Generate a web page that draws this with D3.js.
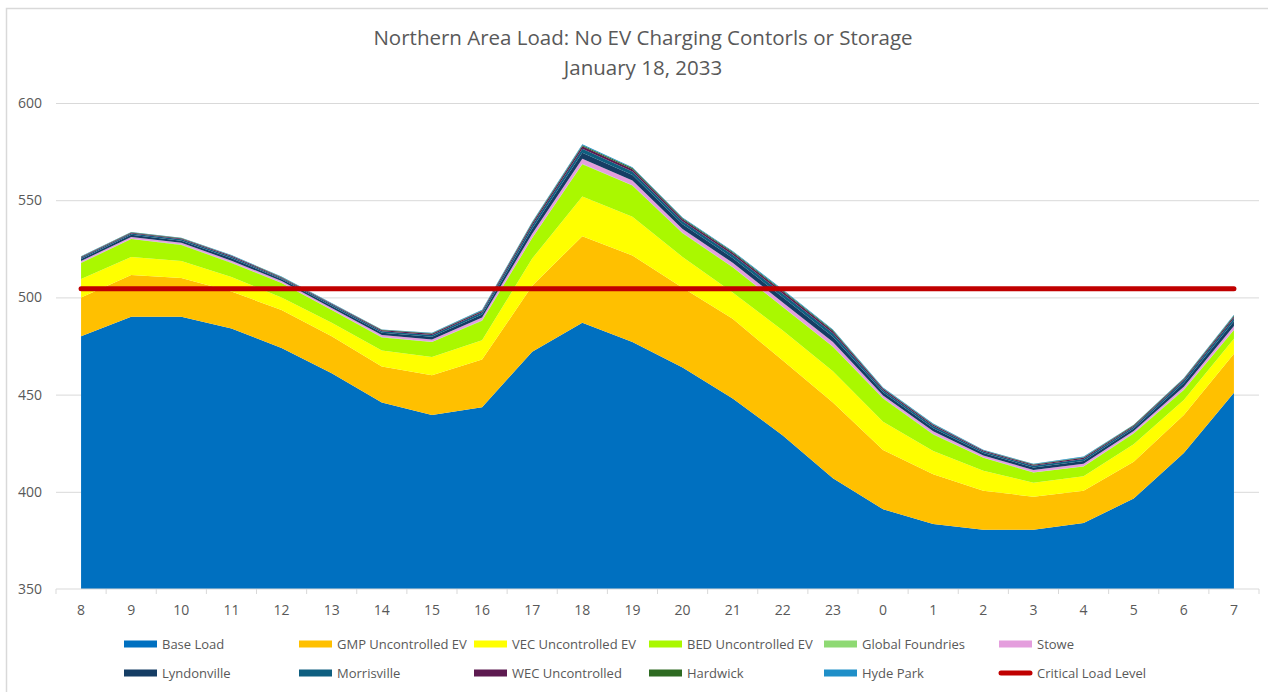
<!DOCTYPE html>
<html>
<head>
<meta charset="utf-8">
<script src="https://cdn.jsdelivr.net/npm/d3@7"></script>
<style>
	body { margin: 0; background: #fff; }
	text { font-family: "Open Sans", "Liberation Sans", sans-serif; fill: #595959; }
</style>
</head>
<body>
<div id="chart"></div>
<script>
// Hours of the day (x axis categories)
const hours = ["8", "9", "10", "11", "12", "13", "14", "15", "16", "17", "18", "19", "20", "21", "22", "23", "0", "1", "2", "3", "4", "5", "6", "7"];

// Stacked series (MW)
const baseLoad = [480, 490, 490, 484, 474, 461, 446, 439.5, 443.5, 472, 487, 477, 464, 448, 429, 407, 391, 383.5, 380.5, 380.5, 384, 396.5, 420, 451];
const gmpEV = [20, 21.5, 20, 19, 19.5, 19, 18.5, 20.5, 24.5, 34, 44.5, 44.5, 41, 41, 38.5, 39, 30.5, 25.5, 20, 17, 16.5, 19, 19.5, 20];
const vecEV = [9.5, 9.3, 8.7, 7.5, 6.5, 7, 8.2, 9.4, 10, 14, 20.4, 20, 15.8, 13.5, 15.5, 16, 14.5, 12, 10.3, 7.2, 7.5, 9, 7.7, 7.7];
const bedEV = [8.2, 9.2, 8.3, 7.2, 7.4, 6.5, 6.7, 7.6, 10, 10.5, 16.6, 16, 12.2, 13, 12, 12.6, 12, 8.5, 6.7, 5.2, 5, 5.5, 5.2, 4.5];
const globalFoundries = [0.2, 0.2, 0.2, 0.2, 0.2, 0.2, 0.2, 0.2, 0.2, 0.2, 0.2, 0.2, 0.2, 0.2, 0.2, 0.2, 0.2, 0.2, 0.2, 0.2, 0.2, 0.2, 0.2, 0.2];
const stowe = [0.8, 0.9, 0.9, 1.0, 0.8, 0.9, 1.0, 1.2, 1.4, 2.1, 2.6, 2.4, 2.0, 2.1, 2.2, 2.2, 1.4, 1.4, 1.0, 1.1, 1.2, 1.1, 1.5, 1.9];
const lyndonville = [1.0, 1.1, 1.1, 1.2, 0.9, 1.0, 1.2, 1.4, 1.6, 2.5, 3.1, 2.8, 2.4, 2.5, 2.7, 2.7, 1.6, 1.6, 1.2, 1.3, 1.5, 1.3, 1.9, 2.4];
const morrisville = [0.7, 0.7, 0.7, 0.8, 0.6, 0.7, 0.8, 0.9, 1.1, 1.7, 2.1, 1.9, 1.6, 1.7, 1.8, 1.8, 1.1, 1.1, 0.8, 0.9, 1.0, 0.9, 1.2, 1.6];
const wecUncontrolled = [0.4, 0.4, 0.4, 0.5, 0.4, 0.4, 0.5, 0.6, 0.7, 1.0, 1.2, 1.1, 1.0, 1.0, 1.1, 1.1, 0.7, 0.7, 0.5, 0.5, 0.6, 0.5, 0.7, 0.9];
const hardwick = [0.2, 0.2, 0.2, 0.2, 0.2, 0.2, 0.2, 0.3, 0.3, 0.5, 0.6, 0.6, 0.5, 0.5, 0.5, 0.5, 0.3, 0.3, 0.2, 0.3, 0.3, 0.3, 0.4, 0.5];
const hydePark = [0.2, 0.2, 0.2, 0.2, 0.2, 0.2, 0.2, 0.2, 0.3, 0.4, 0.5, 0.5, 0.4, 0.4, 0.5, 0.4, 0.3, 0.3, 0.2, 0.2, 0.3, 0.2, 0.3, 0.4];

// Critical load level (flat line)
const criticalLoad = [504.5, 504.5, 504.5, 504.5, 504.5, 504.5, 504.5, 504.5, 504.5, 504.5, 504.5, 504.5, 504.5, 504.5, 504.5, 504.5, 504.5, 504.5, 504.5, 504.5, 504.5, 504.5, 504.5, 504.5];

const yTicks = [350, 400, 450, 500, 550, 600];

const seriesNames = ["Base Load", "GMP Uncontrolled EV", "VEC Uncontrolled EV", "BED Uncontrolled EV", "Global Foundries", "Stowe",
	"Lyndonville", "Morrisville", "WEC Uncontrolled", "Hardwick", "Hyde Park"];
const seriesValues = [baseLoad, gmpEV, vecEV, bedEV, globalFoundries, stowe, lyndonville, morrisville, wecUncontrolled, hardwick, hydePark];
const seriesColors = ["#0070C0", "#FFC000", "#FFFF00", "#AAF800", "#8ED973", "#E49EDD",
	"#153D64", "#0F5F80", "#5D1A50", "#2E6B22", "#1F8FC8"];

const width = 1268, height = 692;
const plot = {left: 56, right: 1259, top: 103, bottom: 589};

let svg = d3.select("#chart")
	.append("svg")
	.attr("width", width)
	.attr("height", height);

// chart border
svg.append("rect")
	.attr("x", 6.5).attr("y", 8.5)
	.attr("width", width).attr("height", height)
	.attr("fill", "none")
	.attr("stroke", "#d9d9d9")
	.attr("stroke-width", 1.5);

let x = d3.scaleBand().domain(hours).range([plot.left, plot.right]);
let y = d3.scaleLinear().domain([350, 600]).range([plot.bottom, plot.top]);
let cx = function(h) {return x(h) + x.bandwidth() / 2};

// Gridlines
svg.append("g")
	.attr("transform", "translate(" + plot.left + ",0)")
	.call(d3.axisLeft(y).tickValues(yTicks.slice(1)).tickSize(-(plot.right - plot.left)).tickFormat(""))
	.call(g => g.select(".domain").remove())
	.selectAll("line").attr("stroke", "#d9d9d9");

// Stacked areas
let table = hours.map(function(h, i) {
	let row = {hour: h};
	seriesNames.forEach(function(n, j) {row[n] = seriesValues[j][i]});
	return row;
});
let stacked = d3.stack().keys(seriesNames)(table);

let area = d3.area()
	.x(function(d) {return cx(d.data.hour)})
	.y0(function(d) {return y(Math.max(350, d[0]))})
	.y1(function(d) {return y(d[1])});

svg.append("g").selectAll("path")
	.data(stacked)
	.enter()
	.append("path")
	.attr("d", area)
	.attr("fill", function(d, i) {return seriesColors[i]});

// X axis line + tick marks between categories
svg.append("line")
	.attr("x1", plot.left).attr("x2", plot.right)
	.attr("y1", y(350)).attr("y2", y(350))
	.attr("stroke", "#d9d9d9");

svg.append("g").selectAll("line")
	.data(hours.concat(["end"]))
	.enter()
	.append("line")
	.attr("x1", function(d, i) {return plot.left + i * x.bandwidth()})
	.attr("x2", function(d, i) {return plot.left + i * x.bandwidth()})
	.attr("y1", y(350)).attr("y2", y(350) + 5)
	.attr("stroke", "#d9d9d9");

svg.append("g")
	.attr("transform", "translate(0," + y(350) + ")")
	.call(d3.axisBottom(x).tickSize(0).tickPadding(16))
	.call(g => g.select(".domain").remove())
	.selectAll("text")
	.style("font-size", "14px")
	.style("font-family", "'Open Sans', sans-serif")
	.attr("fill", "#595959");

// Y axis labels
svg.append("g")
	.attr("transform", "translate(" + plot.left + ",0)")
	.call(d3.axisLeft(y).tickValues(yTicks).tickSize(0).tickPadding(14))
	.call(g => g.select(".domain").remove())
	.selectAll("text")
	.style("font-size", "14px")
	.style("font-family", "'Open Sans', sans-serif")
	.attr("fill", "#595959");

// Critical load line
let line = d3.line()
	.x(function(d, i) {return cx(hours[i])})
	.y(function(d) {return y(d)});

svg.append("path")
	.datum(criticalLoad)
	.attr("d", line)
	.attr("fill", "none")
	.attr("stroke", "#C00000")
	.attr("stroke-width", 5)
	.attr("stroke-linecap", "round");

// Title
svg.append("text")
	.attr("x", 643).attr("y", 45)
	.style("text-anchor", "middle")
	.style("font-size", "20.5px")
	.text("Northern Area Load: No EV Charging Contorls or Storage");

svg.append("text")
	.attr("x", 643).attr("y", 75)
	.style("text-anchor", "middle")
	.style("font-size", "20.5px")
	.text("January 18, 2033");

// Legend: 6 columns, 2 rows
let legendItems = seriesNames.map(function(n, i) {return {name: n, color: seriesColors[i], line: false}});
legendItems.push({name: "Critical Load Level", color: "#C00000", line: true});

let legend = svg.append("g").selectAll("g")
	.data(legendItems)
	.enter()
	.append("g")
	.attr("transform", function(d, i) {
		return "translate(" + (124 + (i % 6) * 175) + "," + (644 + Math.floor(i / 6) * 29) + ")";
	});

legend.filter(function(d) {return !d.line})
	.append("rect")
	.attr("x", 0).attr("y", -3.5)
	.attr("width", 33).attr("height", 7)
	.attr("fill", function(d) {return d.color});

legend.filter(function(d) {return d.line})
	.append("line")
	.attr("x1", 2).attr("x2", 31)
	.attr("y1", 0).attr("y2", 0)
	.attr("stroke", function(d) {return d.color})
	.attr("stroke-width", 5)
	.attr("stroke-linecap", "round");

legend.append("text")
	.attr("x", 38).attr("y", 5)
	.style("font-size", "13px")
	.text(function(d) {return d.name});
</script>
</body>
</html>
